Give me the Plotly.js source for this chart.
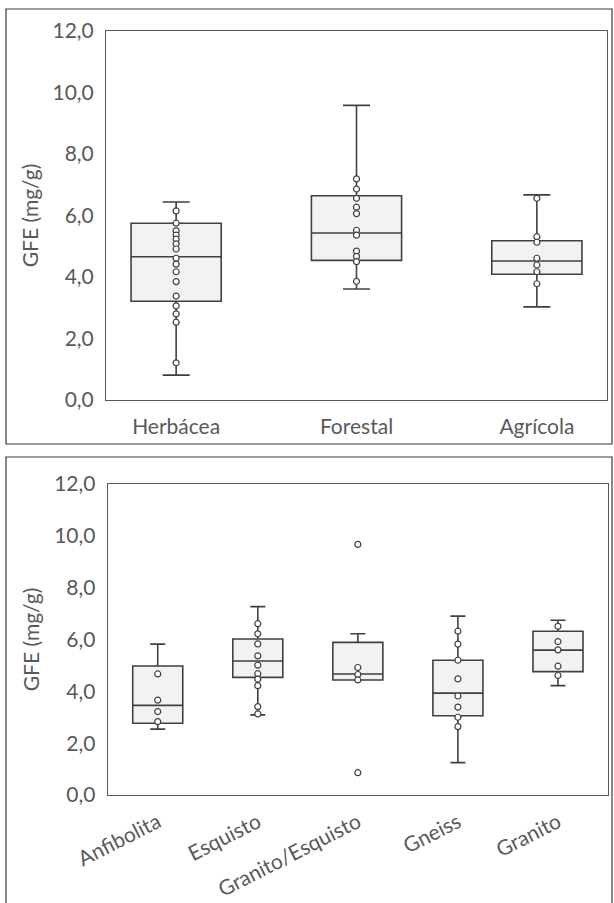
<!DOCTYPE html>
<html><head><meta charset="utf-8">
<script src="https://cdn.plot.ly/plotly-3.0.1.min.js"></script>
<style>html,body{margin:0;padding:0;background:#fff}</style>
</head><body><div id="chart" style="width:614px;height:903px"></div>
<script>
// ---- Panel 1: uso del suelo ----
const usoCategories = ['Herbácea', 'Forestal', 'Agrícola'];
const usoLowerFence = [0.81, 3.61, 3.03];
const usoQ1 = [3.21, 4.54, 4.09];
const usoMedian = [4.66, 5.43, 4.52];
const usoQ3 = [5.75, 6.64, 5.18];
const usoUpperFence = [6.44, 9.58, 6.67];
const herbaceaPoints = [6.15, 5.75, 5.50, 5.36, 5.23, 5.08, 4.91, 4.61, 4.42, 4.17, 3.85, 3.38, 3.06, 2.80, 2.53, 1.21];
const forestalPoints = [7.19, 6.86, 6.56, 6.27, 6.06, 5.52, 5.36, 4.84, 4.67, 4.50, 3.86];
const agricolaPoints = [6.56, 5.31, 5.13, 4.61, 4.39, 4.17, 3.78];

// ---- Panel 2: litología ----
const litoCategories = ['Anfibolita', 'Esquisto', 'Granito/Esquisto', 'Gneiss', 'Granito'];
const litoLowerFence = [2.54, 3.09, 4.44, 1.25, 4.22];
const litoQ1 = [2.77, 4.54, 4.44, 3.06, 4.76];
const litoMedian = [3.46, 5.17, 4.67, 3.93, 5.59];
const litoQ3 = [4.98, 6.02, 5.89, 5.20, 6.32];
const litoUpperFence = [5.82, 7.27, 6.22, 6.90, 6.74];
const anfibolitaPoints = [4.67, 3.66, 3.22, 2.83];
const esquistoPoints = [6.61, 6.22, 5.83, 5.37, 5.01, 4.68, 4.47, 4.22, 3.41, 3.13];
const granitoEsquistoPoints = [9.67, 4.92, 4.65, 4.44, 0.86];
const gneissPoints = [6.32, 5.82, 5.20, 4.48, 3.82, 3.39, 3.00, 2.64];
const granitoPoints = [6.51, 5.92, 5.60, 4.97, 4.61];

const yTickVals = [0, 2, 4, 6, 8, 10, 12];

const W = 614, H = 903;
const lineCol = '#404040';
const textCol = '#595959';
const fontFam = 'Lato, "Open Sans", sans-serif';
const fs = 21;

function flatten(cats, groups) {
  const xs = [], ys = [];
  groups.forEach((g, i) => g.forEach(v => { xs.push(cats[i]); ys.push(v); }));
  return {xs, ys};
}

const p1 = flatten(usoCategories, [herbaceaPoints, forestalPoints, agricolaPoints]);
const p2 = flatten(litoCategories, [anfibolitaPoints, esquistoPoints, granitoEsquistoPoints, gneissPoints, granitoPoints]);

const boxStyle = {
  type: 'box', boxpoints: false, fillcolor: '#f2f2f2',
  line: {color: lineCol, width: 1.6}, whiskerwidth: 0.3, width: 0.5,
  hoverinfo: 'skip', showlegend: false
};
const ptStyle = {
  type: 'scatter', mode: 'markers', showlegend: false, hoverinfo: 'skip',
  marker: {symbol: 'circle', size: 6, color: '#ffffff', line: {color: lineCol, width: 1.2}}
};

const data = [
  Object.assign({}, boxStyle, {x: usoCategories, q1: usoQ1, median: usoMedian, q3: usoQ3,
    lowerfence: usoLowerFence, upperfence: usoUpperFence, xaxis: 'x', yaxis: 'y'}),
  Object.assign({}, ptStyle, {x: p1.xs, y: p1.ys, xaxis: 'x', yaxis: 'y'}),
  Object.assign({}, boxStyle, {x: litoCategories, q1: litoQ1, median: litoMedian, q3: litoQ3,
    lowerfence: litoLowerFence, upperfence: litoUpperFence, xaxis: 'x2', yaxis: 'y2'}),
  Object.assign({}, ptStyle, {x: p2.xs, y: p2.ys, xaxis: 'x2', yaxis: 'y2'})
];

const xBase = {
  type: 'category', showline: true, mirror: true, linecolor: '#595959', linewidth: 1,
  ticks: '', showgrid: false, zeroline: false, fixedrange: true,
  tickfont: {family: fontFam, size: fs, color: textCol}
};
const yBase = {
  range: [0, 12], tickvals: yTickVals, tickformat: '.1f', showline: true, mirror: true,
  linecolor: '#595959', linewidth: 1, ticks: '', showgrid: false, zeroline: false, fixedrange: true,
  tickfont: {family: fontFam, size: fs, color: textCol}, ticklabelstandoff: 7,
  title: {text: 'GFE (mg/g)', font: {family: fontFam, size: fs, color: textCol}, standoff: 8}
};

const layout = {
  width: W, height: H, margin: {l: 0, r: 0, t: 0, b: 0},
  showlegend: false, separators: ',.',
  paper_bgcolor: '#ffffff', plot_bgcolor: '#ffffff',
  font: {family: fontFam, color: textCol},
  xaxis: Object.assign({}, xBase, {domain: [106 / W, 607 / W], anchor: 'y', ticklabelstandoff: 8}),
  yaxis: Object.assign({}, yBase, {domain: [1 - 400 / H, 1 - 31 / H], anchor: 'x'}),
  xaxis2: Object.assign({}, xBase, {domain: [107.7 / W, 608 / W], anchor: 'y2', tickangle: -27, ticklabelstandoff: 6}),
  yaxis2: Object.assign({}, yBase, {domain: [1 - 795 / H, 1 - 484 / H], anchor: 'x2'}),
  shapes: [
    {type: 'rect', xref: 'paper', yref: 'paper', x0: 6 / W, x1: 612 / W, y0: 1 - 444 / H, y1: 1 - 9 / H,
     line: {color: '#3a3a3a', width: 1.2}},
    {type: 'rect', xref: 'paper', yref: 'paper', x0: 6 / W, x1: 612 / W, y0: -0.02, y1: 1 - 457 / H,
     line: {color: '#3a3a3a', width: 1.2}}
  ]
};

Plotly.newPlot('chart', data, layout, {staticPlot: true, displayModeBar: false});
</script></body></html>
